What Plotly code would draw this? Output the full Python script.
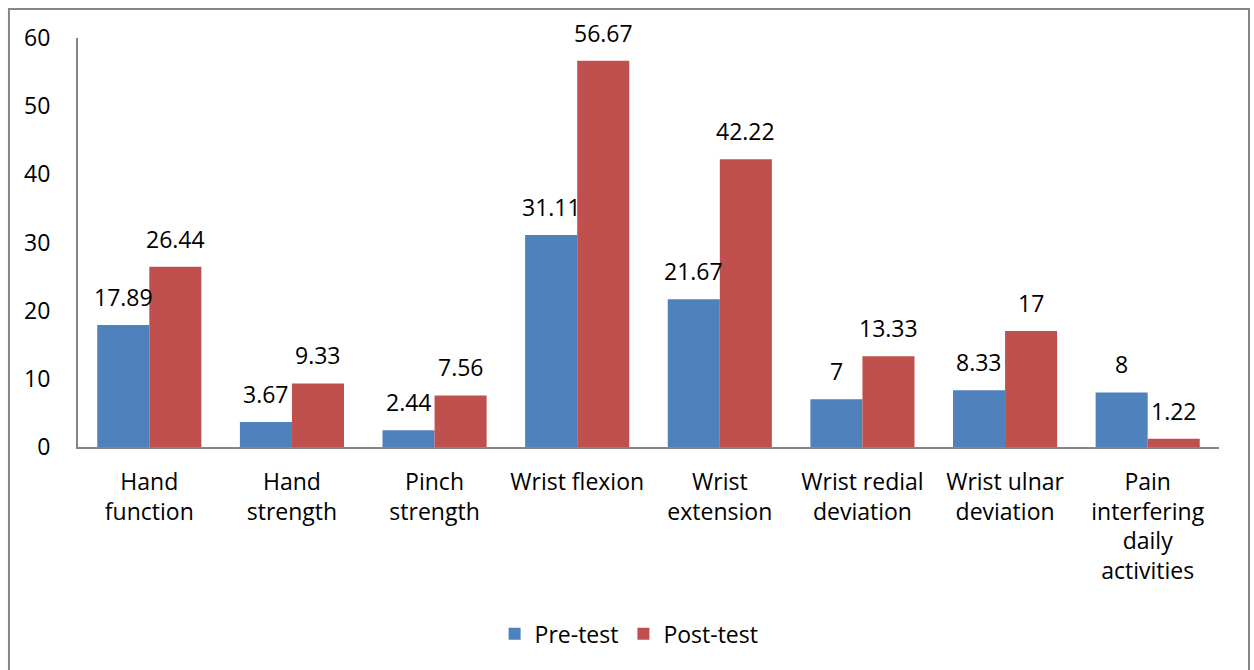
import plotly.graph_objects as go

categories = ["Hand<br>function", "Hand<br>strength", "Pinch<br>strength", "Wrist flexion",
              "Wrist<br>extension", "Wrist redial<br>deviation", "Wrist ulnar<br>deviation",
              "Pain<br>interfering<br>daily<br>activities"]
pre_test = [17.89, 3.67, 2.44, 31.11, 21.67, 7, 8.33, 8]
post_test = [26.44, 9.33, 7.56, 56.67, 42.22, 13.33, 17, 1.22]
pre_labels = ["17.89", "3.67", "2.44", "31.11", "21.67", "7", "8.33", "8"]
post_labels = ["26.44", "9.33", "7.56", "56.67", "42.22", "13.33", "17", "1.22"]
y_ticks = [0, 10, 20, 30, 40, 50, 60]

FONT = "Open Sans"
FS = 23
fig = go.Figure()
fig.add_trace(go.Bar(name="Pre-test", x=categories, y=pre_test, marker=dict(color="#4F81BD", line=dict(width=0))))
fig.add_trace(go.Bar(name="Post-test", x=categories, y=post_test, marker=dict(color="#C0504D", line=dict(width=0))))

for i, c in enumerate(categories):
    fig.add_annotation(x=c, y=pre_test[i], text=pre_labels[i], xshift=-26, yshift=28,
                       showarrow=False, font=dict(size=FS, color="black", family=FONT))
    fig.add_annotation(x=c, y=post_test[i], text=post_labels[i], xshift=26, yshift=28,
                       showarrow=False, font=dict(size=FS, color="black", family=FONT))

fig.add_shape(type="rect", xref="paper", yref="paper", x0=-0.0605, x1=1.0263, y0=-0.6, y1=1.0709,
              line=dict(color="#868686", width=2), fillcolor="rgba(0,0,0,0)", layer="below")

fig.update_layout(
    width=1254, height=670,
    margin=dict(l=78, r=35, t=38, b=223),
    paper_bgcolor="white", plot_bgcolor="white",
    barmode="group", bargap=0.27, bargroupgap=0,
    font=dict(family=FONT, size=FS, color="black"),
    showlegend=True,
    legend=dict(orientation="h", x=0.483, xanchor="center", y=-0.457, yanchor="middle",
                font=dict(size=FS, family=FONT), traceorder="normal"),
    xaxis=dict(showline=True, linecolor="#868686", linewidth=2, ticks="", showgrid=False,
               tickfont=dict(size=FS), ticklabelstandoff=13),
    yaxis=dict(range=[0, 60], tickvals=y_ticks, showline=True, linecolor="#868686", linewidth=2,
               ticks="", showgrid=False, zeroline=False, tickfont=dict(size=FS), ticklabelstandoff=21),
)
fig.write_html("out.html", config={"displayModeBar": False},
               post_script="document.body.style.margin='0';document.body.style.overflow='hidden';")
